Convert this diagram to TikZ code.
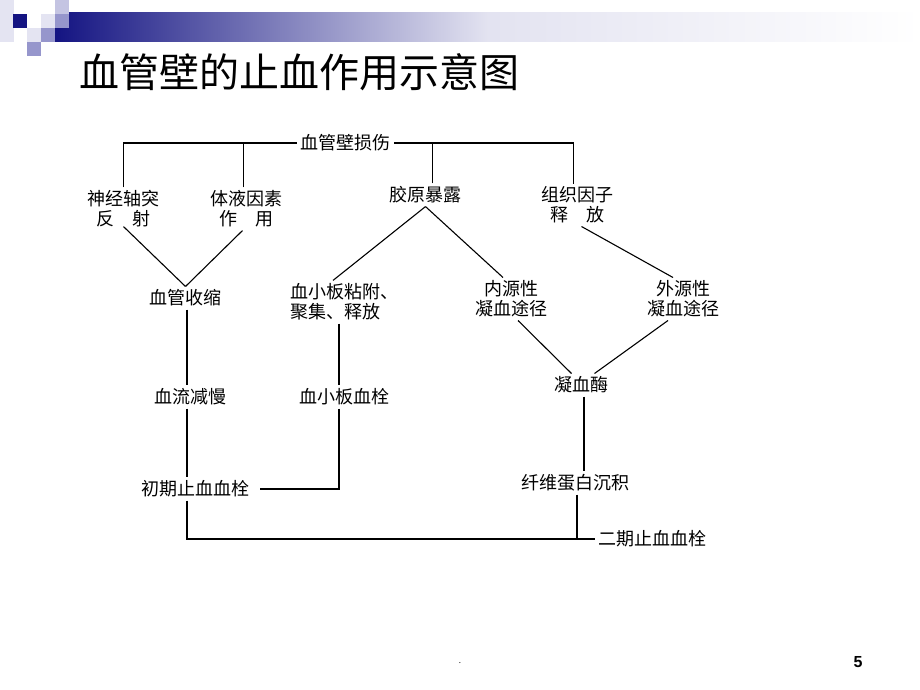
\documentclass[tikz,border=0pt]{standalone}
\usepackage{fontspec}
\setmainfont{Noto Sans CJK SC}
\newfontfamily\numfont{Liberation Sans}
\usetikzlibrary{positioning, calc}

\definecolor{navy}{RGB}{20,20,130}
\definecolor{lav1}{RGB}{228,228,242}
\definecolor{lav2}{RGB}{196,196,226}
\definecolor{lav3}{RGB}{150,150,204}

\tikzset{
  lbl/.style={inner sep=3pt, font=\fontsize{18}{20}\selectfont, align=center},
  lnk/.style={line width=1.1pt, black},
  sq/.style={draw=none}
}

\begin{document}
\begin{tikzpicture}[x=1pt, y=-1pt]
\useasboundingbox (0,0) rectangle (920,690);

% header bar
\shade[left color=navy, right color=white, middle color=lav2!80!navy!30] (55,13) rectangle (920,42);
\fill[lav1] (0,0) rectangle (14,42);
\fill[navy] (13,14) rectangle (27,28);
\fill[lav2] (55,0) rectangle (69,14);
\fill[lav1] (41,14) rectangle (55,28);
\fill[lav3] (55,14) rectangle (69,28);
\fill[lav1] (27,28) rectangle (41,42);
\fill[lav3] (41,28) rectangle (55,42);
\fill[lav3] (27,42) rectangle (41,56);

\node[inner sep=0pt, anchor=west, font=\fontsize{40}{44}\selectfont] (title) at (79,72) {血管壁的止血作用示意图};

\draw   (345.5,143) node[lbl](dmg){血管壁损伤}
        (123.5,209) node[lbl](nerve){神经轴突\\反\hspace{1em}射}
        (246.5,209) node[lbl](humor){体液因素\\作\hspace{1em}用}
        (425.5,195) node[lbl](coll){胶原暴露}
        (577.5,205) node[lbl](tissue){组织因子\\释\hspace{1em}放};
\draw   (185.5,298) node[lbl](constr){血管收缩}
        (344,302) node[lbl, align=left](adh){血小板粘附、\\聚集、释放}
        (511,299) node[lbl](intr){内源性\\凝血途径}
        (683,299) node[lbl](extr){外源性\\凝血途径};
\draw   (190.5,397) node[lbl](slow){血流减慢}
        (344.5,397) node[lbl](plug){血小板血栓}
        (581.5,385) node[lbl](thromb){凝血酶}
        (575.5,483) node[lbl](fibrin){纤维蛋白沉积}
        (195,489) node[lbl](prim){初期止血血栓}
        (652.5,539) node[lbl](sec){二期止血血栓};

% top branches
\draw[lnk] (nerve.north) |- (dmg.west);
\draw[lnk] ([xshift=-3pt]humor.north) |- (dmg.west);
\draw[lnk] ([xshift=7pt]coll.north) |- (dmg.east);
\draw[lnk] ([xshift=-4pt]tissue.north) |- (dmg.east);

% diagonals
\path[lnk]
    ([yshift=4pt]nerve.south) edge (constr.north)
    ([xshift=-4pt]humor.south) edge (constr.north)
    (coll.south) edge ([xshift=-11pt]adh.north)
    (coll.south) edge ([xshift=-8pt]intr.north)
    ([xshift=4pt]tissue.south) edge ([xshift=-10pt]extr.north)
    ([xshift=7pt]intr.south) edge ([xshift=-10pt]thromb.north)
    ([xshift=-15pt]extr.south) edge ([xshift=13pt]thromb.north);

% verticals
\coordinate (lcol) at ([xshift=1.5pt]constr.south);
\coordinate (mcol) at ([xshift=-5pt]adh.south);
\draw[lnk] (lcol) -- (lcol |- slow.north);
\draw[lnk] (lcol |- slow.south) -- (lcol |- prim.north);
\draw[lnk] (lcol |- prim.south) |- (sec.west);
\draw[lnk] (mcol) -- (mcol |- plug.north);
\draw[lnk] (mcol |- plug.south) |- ([xshift=8pt]prim.east);
\draw[lnk] ([xshift=2.5pt]thromb.south) -- ([xshift=2.5pt]thromb.south |- fibrin.north);
\draw[lnk] ([xshift=1.5pt]fibrin.south) -- ([xshift=1.5pt]fibrin.south |- sec.west);

% footer
\node[inner sep=0pt, font=\numfont\bfseries\fontsize{16}{18}\selectfont] (pnum) at (858,662) {5};
\node[inner sep=0pt, font=\fontsize{8}{8}\selectfont] (dot) at (460,663) {.};
\end{tikzpicture}
\end{document}
